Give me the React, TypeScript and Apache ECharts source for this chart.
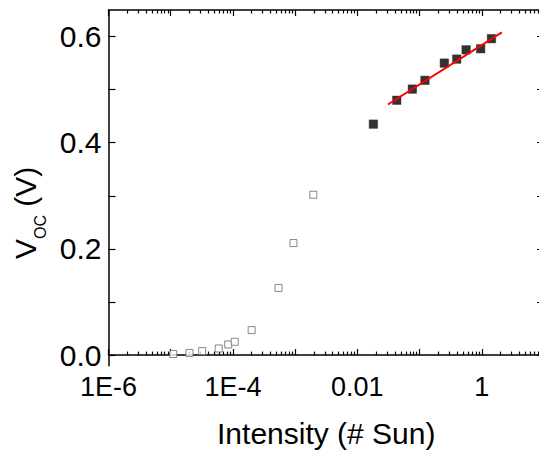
import { useEffect, useRef } from 'react';
import * as echarts from 'echarts';

// Low-intensity measurements (open squares)
const lowIntensity = [1.1e-5, 2.0e-5, 3.2e-5, 5.9e-5, 8.4e-5, 1.07e-4, 2.0e-4, 5.4e-4, 9.4e-4, 1.96e-3];
const lowVoc = [0.002, 0.004, 0.0075, 0.0124, 0.02, 0.025, 0.047, 0.1265, 0.211, 0.302];
// High-intensity measurements (filled squares)
const highIntensity = [0.0181, 0.043, 0.0766, 0.122, 0.25, 0.396, 0.56, 0.96, 1.43];
const highVoc = [0.435, 0.48, 0.501, 0.5175, 0.55, 0.5575, 0.575, 0.577, 0.596];
// Linear fit (red line)
const fitIntensity = [0.031, 2.1];
const fitVoc = [0.472, 0.608];

// Axis ticks / labels
const xLabelValues = [1e-6, 1e-4, 1e-2, 1];
const xLabelTexts = ['1E-6', '1E-4', '0.01', '1'];
const xMajorTickValues = [1e-6, 1e-5, 1e-4, 1e-3, 1e-2, 1e-1, 1, 10];
const xMinorMultipliers = [2, 3, 4, 5, 6, 7, 8, 9];
const yLabelValues = [0, 0.2, 0.4, 0.6];
const yLabelTexts = ['0.0', '0.2', '0.4', '0.6'];
const yTickValues = [0, 0.1, 0.2, 0.3, 0.4, 0.5, 0.6];

const xMin = 1e-6;
const xMax = 10;
const yMin = -0.02;
const yMax = 0.65;

const FONT = "'Liberation Sans', Arial, sans-serif";

export default function App() {
  const ref = useRef<HTMLDivElement>(null);

  useEffect(() => {
    if (!ref.current) return;
    const chart = echarts.init(ref.current, null, { renderer: 'svg' });

    const xMinorTickValues: number[] = [];
    xMajorTickValues.slice(0, -1).forEach((d) => {
      xMinorMultipliers.forEach((m) => xMinorTickValues.push(d * m));
    });

    const xLabelFormatter = (v: number) => {
      const i = xLabelValues.findIndex((t) => Math.abs(Math.log10(v) - Math.log10(t)) < 1e-6);
      return i >= 0 ? xLabelTexts[i] : '';
    };
    const yLabelFormatter = (v: number) => {
      const i = yLabelValues.findIndex((t) => Math.abs(v - t) < 1e-9);
      return i >= 0 ? yLabelTexts[i] : '';
    };

    const axisLine = { show: true, lineStyle: { color: '#000', width: 1.5 } };

    const baseX = {
      type: 'log' as const,
      logBase: 10,
      min: xMin,
      max: xMax,
      gridIndex: 0,
      splitLine: { show: false },
      minorTick: { show: false },
    };

    const option: any = {
      animation: false,
      backgroundColor: '#fff',
      grid: {
        left: 108.5,
        right: -5,
        top: 10,
        bottom: 86.3,
        containLabel: false,
        outerBoundsMode: 'none',
      },
      xAxis: [
        {
          ...baseX,
          position: 'bottom',
          axisLine,
          axisTick: {
            show: true,
            inside: true,
            length: 6,
            customValues: xMajorTickValues,
            lineStyle: { color: '#000', width: 1.2 },
          },
          axisLabel: {
            show: true,
            customValues: xLabelValues,
            formatter: xLabelFormatter,
            fontSize: 27,
            fontFamily: FONT,
            color: '#000',
            margin: 8,
          },
          name: 'Intensity (# Sun)',
          nameLocation: 'middle',
          nameGap: 53,
          nameTextStyle: { fontSize: 30, fontFamily: FONT, color: '#000' },
        },
        {
          ...baseX,
          position: 'bottom',
          axisLine: { show: false },
          axisTick: {
            show: true,
            inside: true,
            length: 3.5,
            customValues: xMinorTickValues,
            lineStyle: { color: '#000', width: 1.2 },
          },
          axisLabel: { show: false },
        },
        {
          ...baseX,
          position: 'top',
          axisLine,
          axisTick: {
            show: true,
            inside: true,
            length: 6,
            customValues: xMajorTickValues,
            lineStyle: { color: '#000', width: 1.2 },
          },
          axisLabel: { show: false },
        },
        {
          ...baseX,
          position: 'top',
          axisLine: { show: false },
          axisTick: {
            show: true,
            inside: true,
            length: 3.5,
            customValues: xMinorTickValues,
            lineStyle: { color: '#000', width: 1.2 },
          },
          axisLabel: { show: false },
        },
      ],
      yAxis: [
        {
          type: 'value',
          min: yMin,
          max: yMax,
          position: 'left',
          splitLine: { show: false },
          axisLine,
          axisTick: {
            show: true,
            inside: true,
            length: 7,
            customValues: yTickValues,
            lineStyle: { color: '#000', width: 1.2 },
          },
          axisLabel: {
            show: true,
            customValues: yLabelValues,
            formatter: yLabelFormatter,
            fontSize: 30,
            fontFamily: FONT,
            color: '#000',
            margin: 7,
          },
          name: '{v|V}{s|OC}{v| (V)}',
          nameLocation: 'middle',
          nameGap: 60,
          nameTextStyle: {
            fontFamily: FONT,
            color: '#000',
            padding: [0, 50, 0, 0],
            rich: {
              v: {
                fontSize: 30,
                fontFamily: FONT,
                color: '#000',
                lineHeight: 30,
                verticalAlign: 'bottom',
                padding: [0, 0, 8, 0],
              },
              s: {
                fontSize: 16,
                fontFamily: FONT,
                color: '#000',
                lineHeight: 16,
                verticalAlign: 'bottom',
              },
            },
          },
        },
        {
          type: 'value',
          min: yMin,
          max: yMax,
          position: 'right',
          splitLine: { show: false },
          axisLine,
          axisTick: {
            show: true,
            inside: true,
            length: 7,
            customValues: yTickValues,
            lineStyle: { color: '#000', width: 1.2 },
          },
          axisLabel: { show: false },
        },
      ],
      series: [
        {
          type: 'scatter',
          xAxisIndex: 0,
          yAxisIndex: 0,
          symbol: 'rect',
          symbolSize: 7,
          itemStyle: { color: '#fff', borderColor: '#6a6a6a', borderWidth: 1 },
          data: lowIntensity.map((x, i) => [x, lowVoc[i]]),
          z: 3,
        },
        {
          type: 'scatter',
          xAxisIndex: 0,
          yAxisIndex: 0,
          symbol: 'rect',
          symbolSize: 8.5,
          itemStyle: { color: '#000', borderColor: '#222', borderWidth: 0.5 },
          data: highIntensity.map((x, i) => [x, highVoc[i]]),
          z: 3,
        },
        {
          type: 'line',
          xAxisIndex: 0,
          yAxisIndex: 0,
          showSymbol: false,
          symbol: 'none',
          lineStyle: { color: '#ff0000', width: 2 },
          data: fitIntensity.map((x, i) => [x, fitVoc[i]]),
          z: 4,
        },
      ],
    };

    chart.setOption(option);
    return () => chart.dispose();
  }, []);

  return (
    <div
      ref={ref}
      style={{ position: 'fixed', left: 0, top: 0, width: 539, height: 452, background: '#fff' }}
    />
  );
}
